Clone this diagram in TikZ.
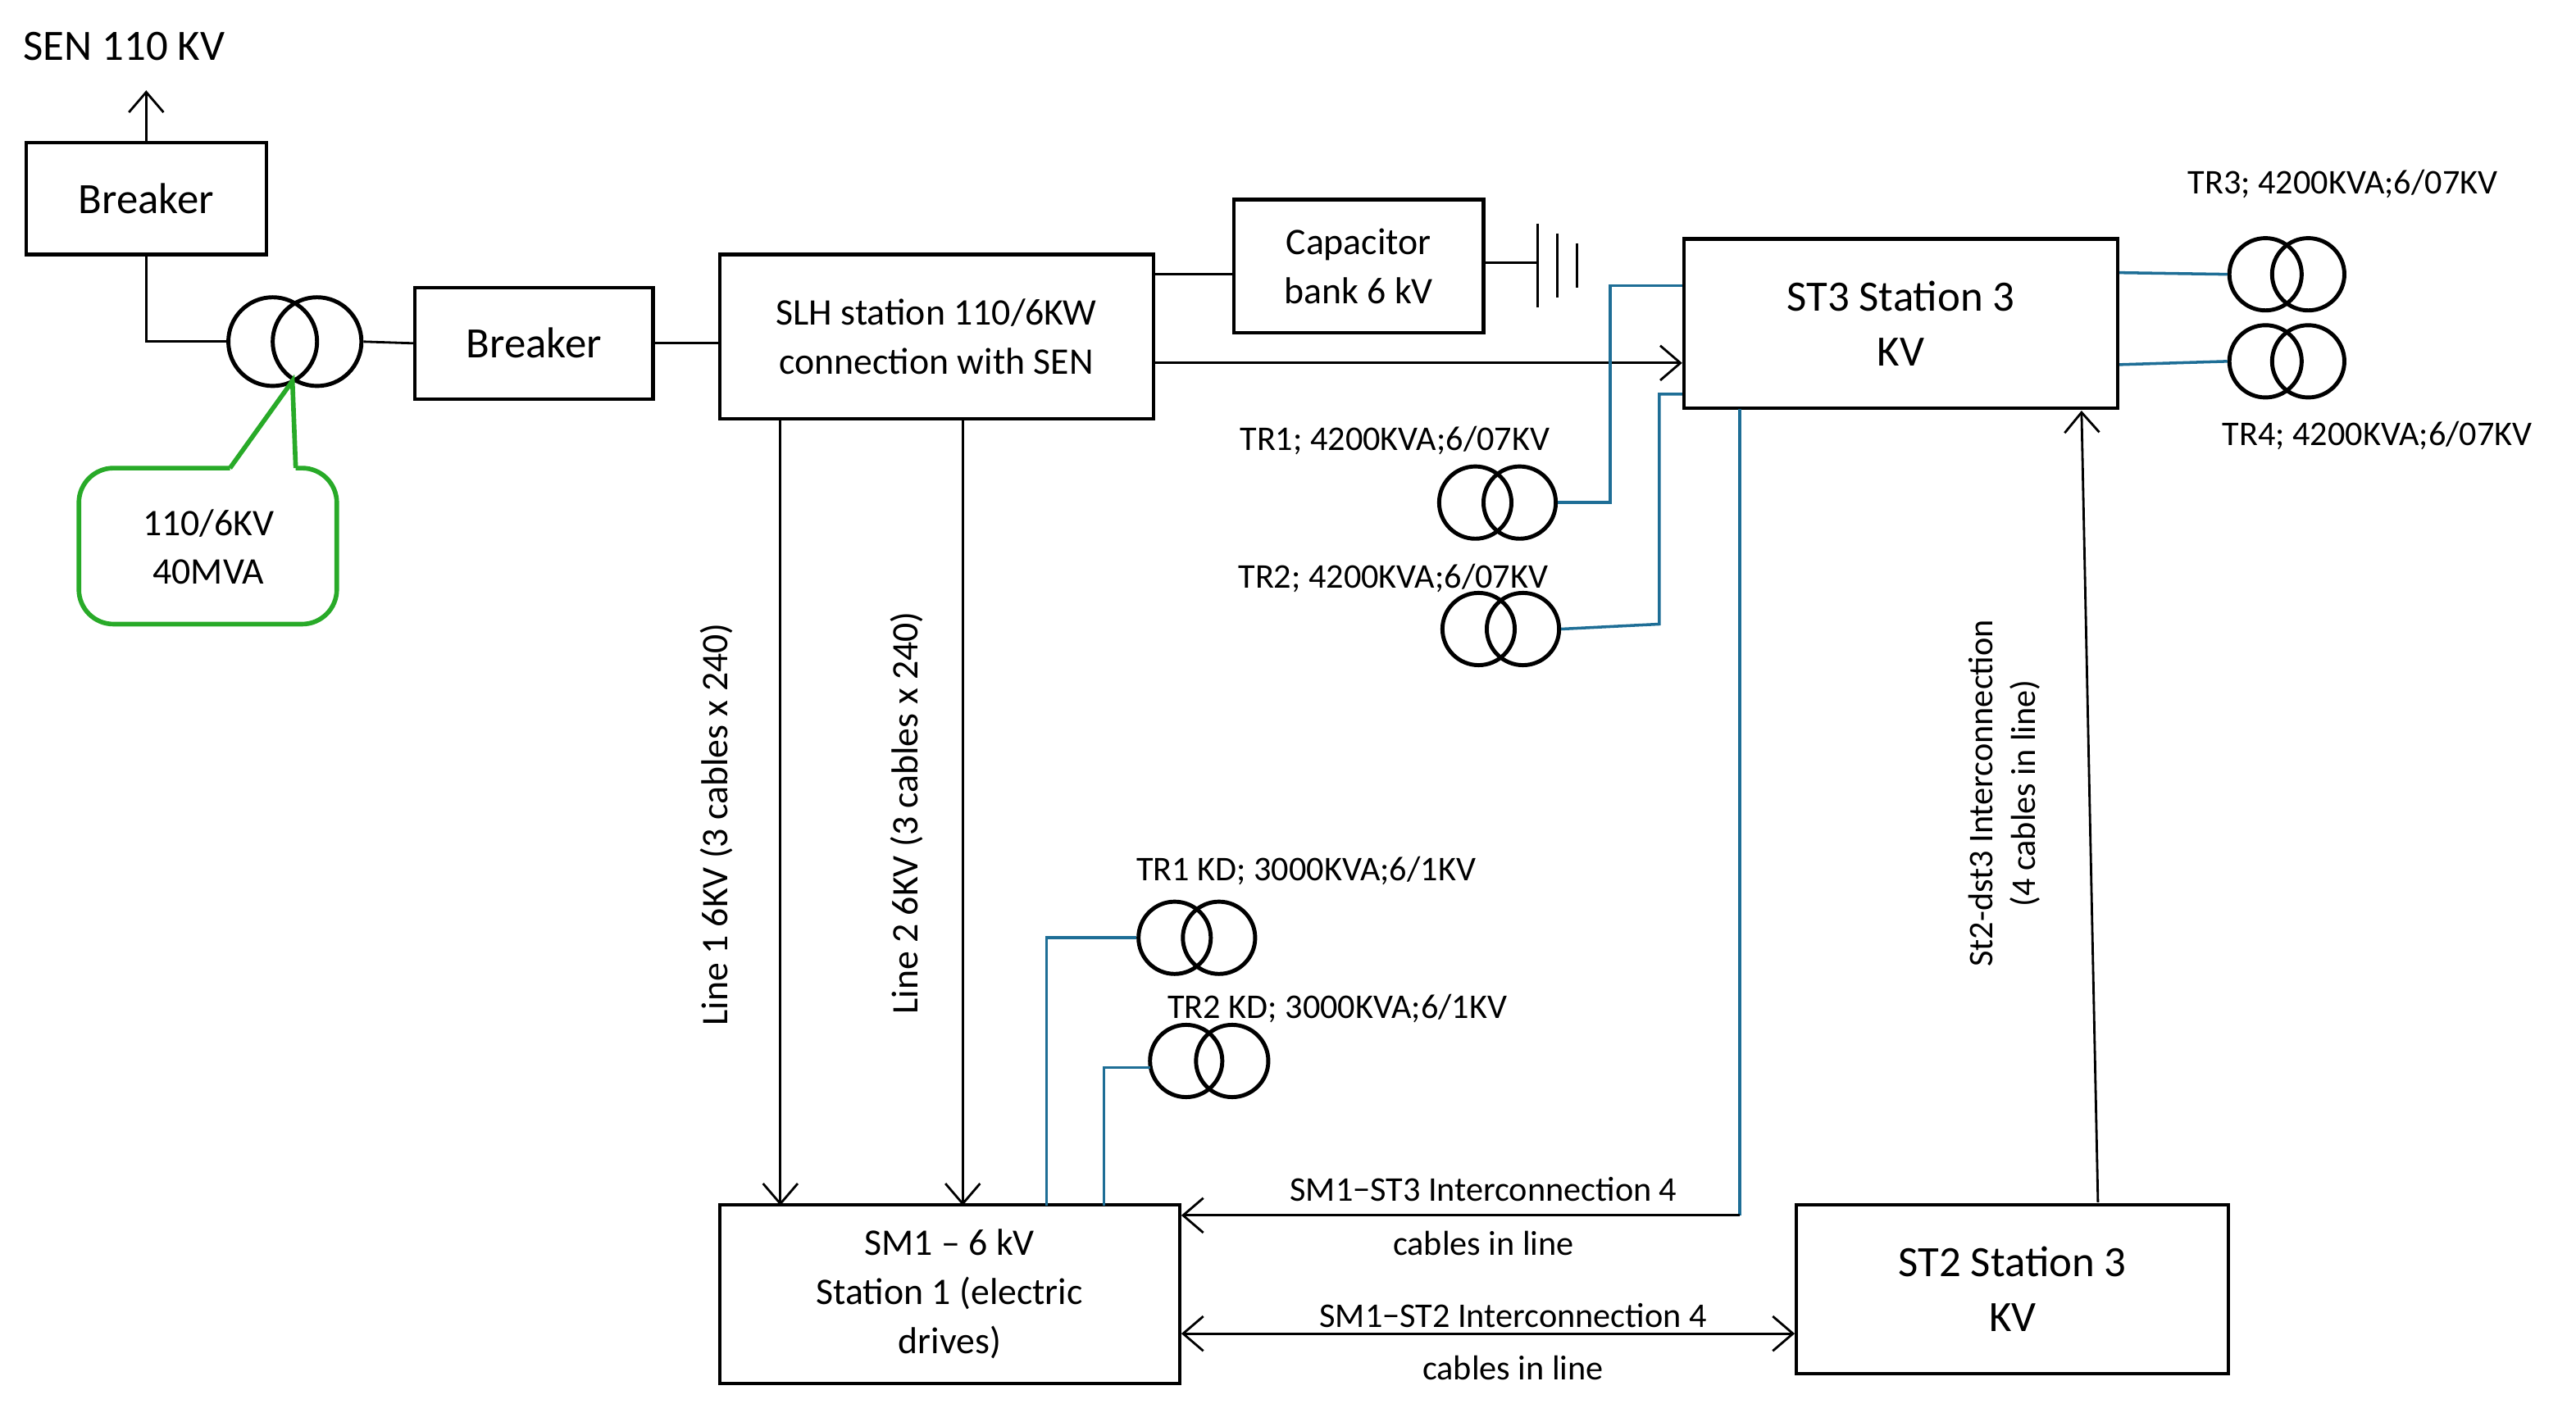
\documentclass[tikz,border=0pt]{standalone}
\usepackage{fontspec}
\setmainfont{Carlito}
\usetikzlibrary{arrows.meta}
\definecolor{bl}{RGB}{30,110,150}
\definecolor{gr}{RGB}{40,170,40}
\begin{document}
\begin{tikzpicture}[x=0.02cm,y=-0.02cm,
 box/.style={draw,line width=1.2pt,inner sep=0pt},
 w/.style={line width=0.8pt},
 b/.style={draw=bl,line width=1pt},
 ar/.style={w,-{Straight Barb[length=7pt,width=12pt]}},
 big/.style={font=\fontsize{15}{19}\selectfont,align=center},
 mid/.style={font=\fontsize{13}{17}\selectfont,align=center},
 sm/.style={font=\fontsize{12}{15}\selectfont},
 tc/.style={draw,line width=1.4pt,circle,minimum size=#1,inner sep=0pt}]
\useasboundingbox (0,0) rectangle (1568,860);
% boxes
\node[box,minimum width=146*0.02cm,minimum height=68*0.02cm,big] (br1) at (89,121) {Breaker};
\node[box,minimum width=145*0.02cm,minimum height=68*0.02cm,big] (br2) at (325,209) {Breaker};
\node[box,minimum width=264*0.02cm,minimum height=100*0.02cm,mid] (slh) at (570,205) {SLH station 110/6KW\\connection with SEN};
\node[box,minimum width=152*0.02cm,minimum height=81*0.02cm,mid] (cap) at (827,162) {Capacitor\\bank 6 kV};
\node[box,minimum width=264*0.02cm,minimum height=103*0.02cm,big] (st3) at (1157,197) {ST3 Station 3\\KV};
\node[box,minimum width=280*0.02cm,minimum height=109*0.02cm,mid] (sm1) at (578,788) {SM1 – 6 kV\\Station 1 (electric\\drives)};
\node[box,minimum width=263*0.02cm,minimum height=103*0.02cm,big] (st2) at (1225,785) {ST2 Station 3\\KV};
\node[big,anchor=west] (sen) at (8,28) {SEN 110 KV};
\coordinate (senp) at (89,55);
\draw[ar] (br1.north) -- (senp);
% main transformer
\node[tc=54*0.02cm] (t0a) at (166,208) {};
\node[tc=54*0.02cm] (t0b) at (193,208) {};
\draw[w] (br1.south) |- (t0a.west);
\draw[w] (t0b.east) -- (br2.west);
\draw[w] (br2.east) -- (slh.west |- br2.east);
% callout
\draw[gr,line width=1.6pt,rounded corners=12pt] (140,285) -- (48,285) -- (48,380) -- (205,380) -- (205,285) -- (180,285);
\coordinate (tip) at (178,232);
\draw[gr,line width=1.6pt] (140,285) -- (tip) -- (180,285);
\node[mid] (cal) at (127,333) {110/6KV\\40MVA};
% capacitor
\draw[w] (slh.east |- 0,167) -- (cap.west |- 0,167);
\coordinate (c1) at (936,160);
\draw[w] (cap.east |- c1) -- (c1);
\draw[w] (936,136) -- (936,187) (948,142) -- (948,181) (960,148) -- (960,175);
\draw[ar] (slh.east |- 0,221) -- (st3.west |- 0,221);
% TR1 TR2
\node[tc=44*0.02cm] (tr1a) at (898,306) {};
\node[tc=44*0.02cm] (tr1b) at (925,306) {};
\node[tc=44*0.02cm] (tr2a) at (900,383) {};
\node[tc=44*0.02cm] (tr2b) at (927,383) {};
\node[sm] (l1) at (849,268) {TR1; 4200KVA;6/07KV};
\node[sm] (l2) at (848,352) {TR2; 4200KVA;6/07KV};
\draw[b] (tr1b.east) -- (980,306) -- (980,174) -- (st3.west |- 0,174);
\draw[b] (tr2b.east) -- (1010,380) -- (1010,240) -- (st3.west |- 0,240);
% TR3 TR4
\node[tc=44*0.02cm] (tr3a) at (1379,167) {};
\node[tc=44*0.02cm] (tr3b) at (1405,167) {};
\node[tc=44*0.02cm] (tr4a) at (1379,220) {};
\node[tc=44*0.02cm] (tr4b) at (1405,220) {};
\draw[b] (st3.east |- 0,166) -- (tr3a.west);
\draw[b] (st3.east |- 0,222) -- (tr4a.west);
\node[sm] (l3) at (1426,112) {TR3; 4200KVA;6/07KV};
\node[sm] (l4) at (1447,265) {TR4; 4200KVA;6/07KV};
% ST2 -> ST3
\draw[ar] (1277,732) -- (1267,250);
\node[sm,rotate=90,align=center] (l5) at (1220,483) {St2-dst3 Interconnection\\(4 cables in line)};
% SM1-ST3
\draw[b] (1059,249) -- (1059,740);
\draw[ar] (1059,740) -- (sm1.east |- 0,740);
\node[sm] (l6) at (903,724) {SM1−ST3 Interconnection 4};
\node[sm] (l7) at (903,757) {cables in line};
\draw[w,{Straight Barb[length=7pt,width=12pt]}-{Straight Barb[length=7pt,width=12pt]}] (sm1.east |- 0,812) -- (st2.west |- 0,812);
\node[sm] (l8) at (921,801) {SM1−ST2 Interconnection 4};
\node[sm] (l9) at (921,833) {cables in line};
% lines 1,2
\draw[ar] (475,255) -- (475,734);
\draw[ar] (586,255) -- (586,734);
\node[mid,rotate=90] (l10) at (436,502) {Line 1 6KV (3 cables x 240)};
\node[mid,rotate=90] (l11) at (552,495) {Line 2 6KV (3 cables x 240)};
% KD transformers
\node[tc=44*0.02cm] (k1a) at (715,571) {};
\node[tc=44*0.02cm] (k1b) at (742,571) {};
\node[tc=44*0.02cm] (k2a) at (722,646) {};
\node[tc=44*0.02cm] (k2b) at (750,646) {};
\draw[b] (637,734) -- (637,571) -- (k1a.west);
\draw[b] (672,734) -- (672,650) -- (700,650);
\node[sm] (l12) at (795,530) {TR1 KD; 3000KVA;6/1KV};
\node[sm] (l13) at (814,614) {TR2 KD; 3000KVA;6/1KV};
\end{tikzpicture}
\end{document}
